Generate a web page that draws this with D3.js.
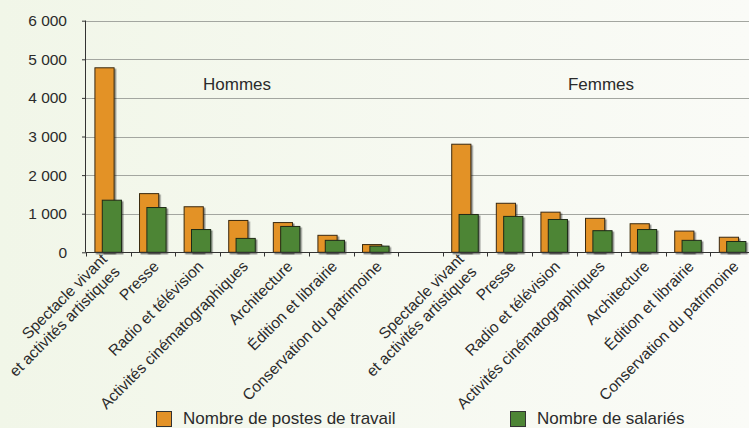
<!DOCTYPE html>
<html>
<head>
<meta charset="utf-8">
<script src="https://cdn.jsdelivr.net/npm/d3@7"></script>
<style>
  body { margin: 0; background: #f3f7ec; }
  svg { display: block; font-family: "Liberation Sans", Arial, sans-serif; }
</style>
</head>
<body>
<div id="chart"></div>
<script>
// data
const categories = [
  "Spectacle vivant\net activités artistiques",
  "Presse",
  "Radio et télévision",
  "Activités cinématographiques",
  "Architecture",
  "Édition et librairie",
  "Conservation du patrimoine"
]
const groups = ["Hommes", "Femmes"]
const postesHommes = [4780, 1520, 1180, 825, 770, 440, 200]
const salariesHommes = [1350, 1160, 590, 360, 670, 310, 160]
const postesFemmes = [2800, 1270, 1040, 880, 740, 550, 390]
const salariesFemmes = [980, 930, 850, 560, 590, 310, 280]
const yTicks = [0, 1000, 2000, 3000, 4000, 5000, 6000]
const seriesNames = ["Nombre de postes de travail", "Nombre de salariés"]
const colors = ["#e39227", "#4d8535"]

// build rows: 7 hommes, empty slot, 7 femmes
let rows = []
categories.forEach((c, i) => rows.push({key: "h" + i, label: c, postes: postesHommes[i], salaries: salariesHommes[i]}))
rows.push({key: "gap", label: "", postes: null, salaries: null})
categories.forEach((c, i) => rows.push({key: "f" + i, label: c, postes: postesFemmes[i], salaries: salariesFemmes[i]}))

const width = 749, height = 428
const margin = {left: 86, top: 21, right: -6, bottom: 175}

const svg = d3.select("#chart").append("svg")
  .attr("width", width)
  .attr("height", height)

const defs = svg.append("defs")
const grad = defs.append("linearGradient").attr("id", "bg")
grad.append("stop").attr("offset", "0%").attr("stop-color", "#f1f6e8")
grad.append("stop").attr("offset", "100%").attr("stop-color", "#fafbf7")
const shadow = defs.append("filter").attr("id", "shadow")
  .attr("x", "-20%").attr("y", "-20%").attr("width", "150%").attr("height", "150%")
shadow.append("feDropShadow")
  .attr("dx", 1.5).attr("dy", 1.5).attr("stdDeviation", 0.6)
  .attr("flood-color", "#000").attr("flood-opacity", 0.45)

svg.append("rect").attr("width", width).attr("height", height).attr("fill", "url(#bg)")

// scales
const xScale = d3.scaleBand()
  .domain(rows.map(d => d.key))
  .range([margin.left, width - margin.right])

const yScale = d3.scaleLinear()
  .domain([0, 6000])
  .range([height - margin.bottom - 0.7, margin.top - 0.3])

const bw = xScale.bandwidth()

// gridlines
svg.append("g")
  .selectAll("line")
  .data(yTicks.filter(t => t > 0))
  .join("line")
    .attr("x1", margin.left)
    .attr("x2", width)
    .attr("y1", d => Math.round(yScale(d)) + 0.5)
    .attr("y2", d => Math.round(yScale(d)) + 0.5)
    .attr("stroke", "#a3a6a0")
    .attr("stroke-width", 1.2)

// bars
const barG = svg.append("g")
const dataRows = rows.filter(d => d.postes != null)
barG.selectAll(".postes")
  .data(dataRows)
  .join("rect")
    .attr("class", "postes")
    .attr("x", d => xScale(d.key) + bw * 0.2)
    .attr("width", bw * 0.43)
    .attr("y", d => yScale(d.postes))
    .attr("height", d => yScale(0) - yScale(d.postes))
    .attr("fill", colors[0])
    .attr("stroke", "#3a2a12")
    .attr("stroke-width", 1)
    .attr("filter", "url(#shadow)")

barG.selectAll(".salaries")
  .data(dataRows)
  .join("rect")
    .attr("class", "salaries")
    .attr("x", d => xScale(d.key) + bw * 0.365)
    .attr("width", bw * 0.43)
    .attr("y", d => yScale(d.salaries))
    .attr("height", d => yScale(0) - yScale(d.salaries))
    .attr("fill", colors[1])
    .attr("stroke", "#1f2a18")
    .attr("stroke-width", 1)
    .attr("filter", "url(#shadow)")

// y axis
const yAxis = svg.append("g")
  .attr("transform", `translate(${margin.left},0)`)
  .call(d3.axisLeft(yScale).tickValues(yTicks).tickSize(4)
    .tickFormat(d => d3.format(",")(d).replace(",", " ")))
yAxis.attr("font-family", null)
yAxis.select(".domain").attr("stroke", "#333").attr("d", `M-0.5,${yScale(6000)}V${yScale(0)}`)
yAxis.selectAll(".tick line").attr("stroke", "#333")
yAxis.selectAll(".tick text")
  .attr("x", -19)
  .attr("font-size", 15.5)
  .attr("fill", "#2b2b2b")

// x axis
const y0 = Math.round(yScale(0)) + 0.5
svg.append("line")
  .attr("x1", margin.left).attr("x2", width)
  .attr("y1", y0).attr("y2", y0)
  .attr("stroke", "#333")
svg.append("g").selectAll("line")
  .data(rows)
  .join("line")
    .attr("x1", d => Math.round(xScale(d.key)) + 0.5)
    .attr("x2", d => Math.round(xScale(d.key)) + 0.5)
    .attr("y1", y0).attr("y2", y0 + 4)
    .attr("stroke", "#333")

// category labels
const labels = svg.append("g").selectAll("text")
  .data(rows.filter(d => d.label))
  .join("text")
    .attr("transform", d => `translate(${xScale(d.key) + bw / 2 + 3},${y0 + 11}) rotate(-45)`)
    .attr("text-anchor", "end")
    .attr("font-size", 15.5)
    .attr("fill", "#2b2b2b")

labels.each(function(d) {
  const parts = d.label.split("\n")
  const t = d3.select(this)
  parts.forEach((p, i) => {
    t.append("tspan")
      .attr("x", 0)
      .attr("dy", parts.length == 1 ? "0.35em" : (i == 0 ? "-0.3em" : "1.15em"))
      .text(p)
  })
})

// group titles
svg.append("g").selectAll("text")
  .data(groups)
  .join("text")
    .attr("x", (d, i) => i == 0 ? 237 : 601)
    .attr("y", 90)
    .attr("text-anchor", "middle")
    .attr("font-size", 17)
    .attr("fill", "#2b2b2b")
    .text(d => d)

// legend
const legend = svg.append("g")
const legX = [156, 510]
seriesNames.forEach((s, i) => {
  legend.append("rect")
    .attr("x", legX[i] + 0.5).attr("y", 411.5)
    .attr("width", 15).attr("height", 15)
    .attr("fill", colors[i])
    .attr("stroke", "#333")
  legend.append("text")
    .attr("x", legX[i] + 27)
    .attr("y", 423.5)
    .attr("font-size", 17)
    .attr("fill", "#2b2b2b")
    .text(s)
})
</script>
</body>
</html>
